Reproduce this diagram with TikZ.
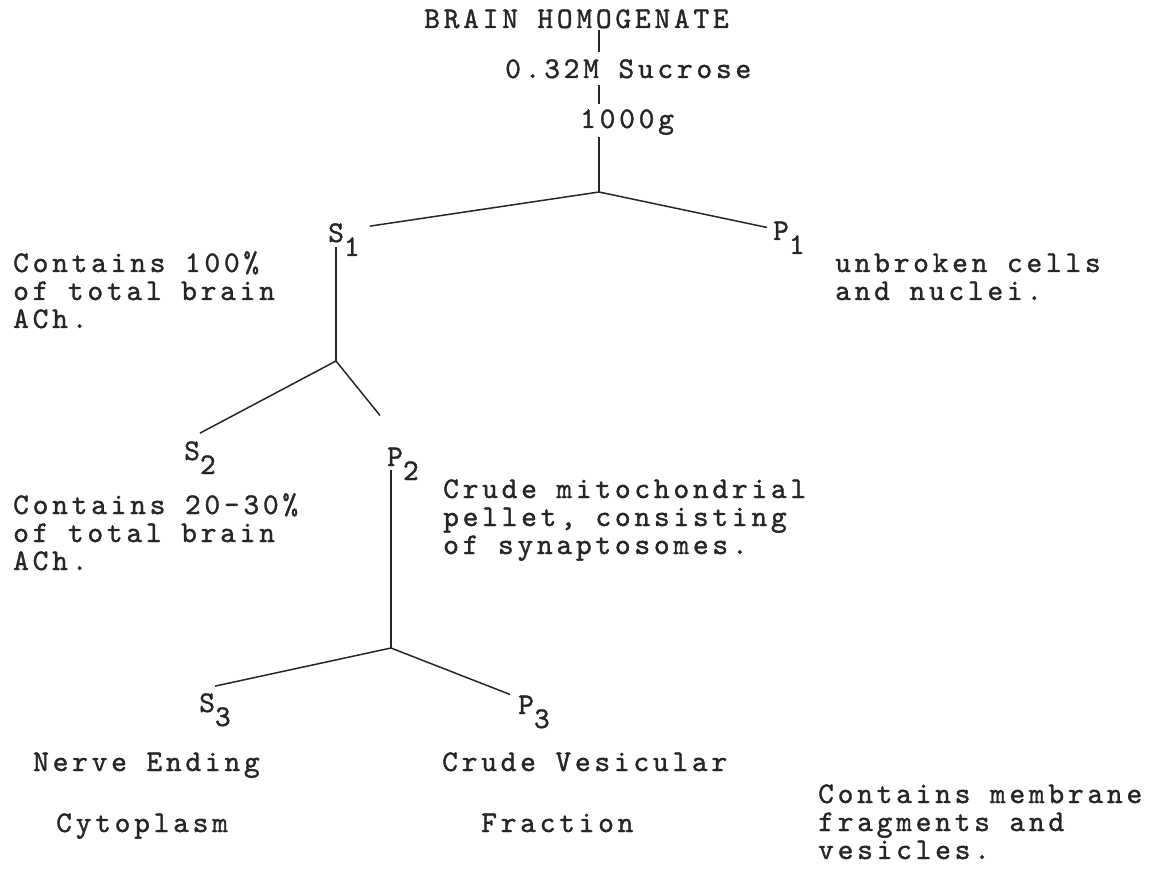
\documentclass[tikz,border=0pt]{standalone}
\usepackage{fontspec}
\setmonofont{lmmono10-regular}[Extension=.otf,LetterSpace=12.5,FakeBold=1.2]
\newcommand\lowered[1]{\raisebox{-14pt}{#1}}

\begin{document}
\begin{tikzpicture}[x=1pt,y=-1pt,
  font=\ttfamily\fontsize{30}{28}\selectfont,text=black!85,
  txt/.style={anchor=base west,inner sep=0},
  note/.style={anchor=base west,inner sep=0,align=left},
  link/.style={line width=1.5pt,black!85}]
  \useasboundingbox (0,0) rectangle (1160,877);
  % main stem
  \node[txt] (brain) at (424,28) {BRAIN HOMOGENATE};
  \node[txt] (sucrose) at (505,78) {0.32M Sucrose};
  \node[txt] (spin) at (580,128) {1000g};
  \coordinate (j1) at (599,192);
  \coordinate (j2) at (336,361);
  \coordinate (j3) at (391,648);

  % supernatants and pellets
  \foreach \name/\x/\y/\l/\n in {
    s1/328/242/S/1,p1/773/240/P/1,s2/184/460/S/2,
    p2/387/466/P/2,s3/199/712/S/3,p3/518/714/P/3}
    \node[txt] (\name) at (\x,\y) {\l\lowered{\n}};

  % notes (base = last line)
  \foreach \name/\x/\y/\body in {
    n1/13/328/{Contains 100\%\\of total brain\\ACh.},
    n2/835/300/{unbroken cells\\and nuclei.},
    n3/13/570/{Contains 20-30\%\\of total brain\\ACh.},
    n4/443/554/{Crude mitochondrial\\pellet, consisting\\of synaptosomes.},
    n5/818/859/{Contains membrane\\fragments and\\vesicles.}}
    \node[note] (\name) at (\x,\y) {\body};
  \foreach \name/\x/\y/\body in {
    nerve/33/771/Nerve Ending,cyto/56/832/Cytoplasm,
    vesic/442/771/Crude Vesicular,fract/481/832/Fraction}
    \node[txt] (\name) at (\x,\y) {\body};

  % connectors
  \draw[link] ([yshift=-2pt]brain.base -| j1) -- ([yshift=7pt]sucrose.north -| j1);
  \draw[link] ([yshift=-7pt]sucrose.base -| j1) -- ([yshift=5pt]spin.north -| j1);
  \draw[link] ([yshift=-9pt]spin.base -| j1) -- (j1);
  \draw[link] ([xshift=10pt,yshift=-3pt]s1.north east) -- (j1) -- ([xshift=-6pt,yshift=-6pt]p1.north west);
  \draw[link] ([yshift=-5pt]s1.base -| j2) -- (j2);
  \draw[link] ([yshift=8pt]s2.north) -- (j2) -- ([xshift=-7pt,yshift=32pt]p2.north west);
  \draw[link] ([yshift=-4pt]p2.base -| j3) -- (j3);
  \draw[link] ([yshift=7pt]s3.north) -- (j3) -- ([xshift=-8pt,yshift=1pt]p3.north west);
\end{tikzpicture}
\end{document}
